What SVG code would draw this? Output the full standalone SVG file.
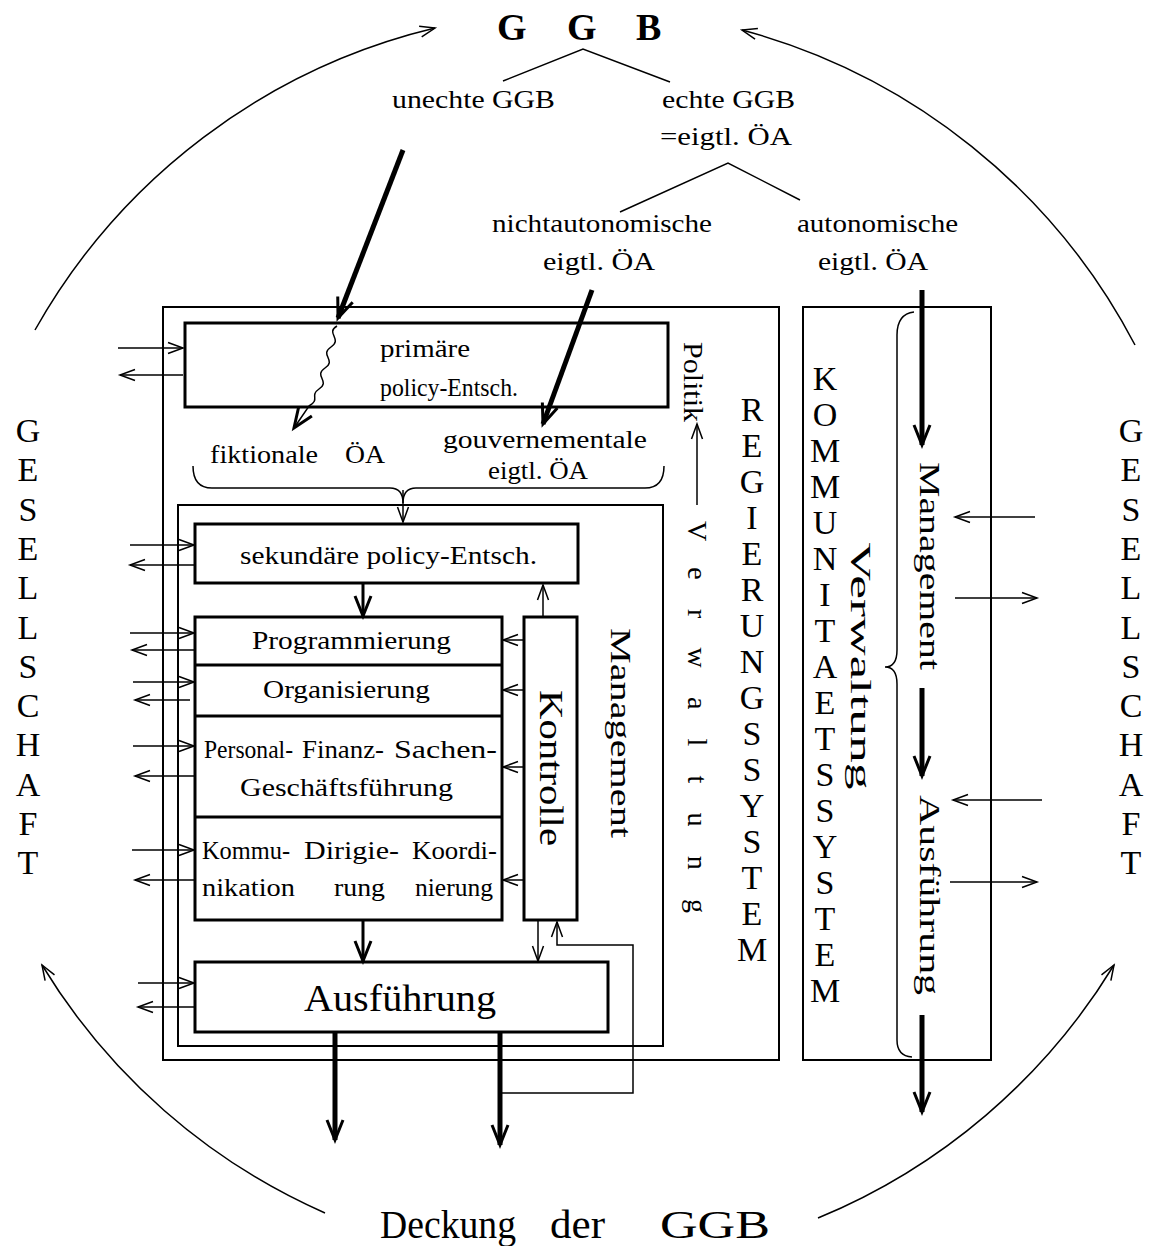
<svg xmlns="http://www.w3.org/2000/svg" width="1154" height="1246" viewBox="0 0 1154 1246">
<style>
text{font-family:"Liberation Serif","DejaVu Serif",serif;fill:#000}
.t{font-size:25px}
.big{font-size:38px}
.v{font-size:34px;text-anchor:middle}
.r{text-anchor:middle;dominant-baseline:central}
.box{fill:none;stroke:#000;stroke-width:3}
.frame{fill:none;stroke:#000;stroke-width:2}
.ln{fill:none;stroke:#000;stroke-width:1.5}
.th{fill:none;stroke:#000;stroke-width:5}
.md{fill:none;stroke:#000;stroke-width:3}
</style>
<defs>
<marker id="a" markerUnits="userSpaceOnUse" markerWidth="20" markerHeight="16" viewBox="-17 -8 20 16" refX="0" refY="0" orient="auto" overflow="visible">
<path d="M-15,-5.5 L0,0 L-15,5.5" fill="none" stroke="#000" stroke-width="1.5"/>
</marker>
<marker id="A" markerUnits="userSpaceOnUse" markerWidth="26" markerHeight="20" viewBox="-22 -10 26 20" refX="0" refY="0" orient="auto" overflow="visible">
<path d="M-20,-8 L0,0 L-20,8" fill="none" stroke="#000" stroke-width="3"/>
</marker>
</defs>

<!-- top tree -->
<g id="ggb">
<text font-size="38" font-weight="bold"><tspan x="497" y="40">G</tspan><tspan x="567" y="40">G</tspan><tspan x="636" y="40">B</tspan></text>
</g>
<g id="unechte"><text class="t" x="392" y="108" textLength="163" lengthAdjust="spacingAndGlyphs">unechte GGB</text></g>
<g id="echte"><text class="t" x="662" y="108" textLength="133" lengthAdjust="spacingAndGlyphs">echte GGB</text>
<text class="t" x="660" y="145" textLength="132" lengthAdjust="spacingAndGlyphs">=eigtl. ÖA</text></g>
<g id="nichtauto"><text class="t" x="492" y="232" textLength="220" lengthAdjust="spacingAndGlyphs">nichtautonomische</text>
<text class="t" x="543" y="270" textLength="112" lengthAdjust="spacingAndGlyphs">eigtl. ÖA</text></g>
<g id="auto"><text class="t" x="797" y="232" textLength="161" lengthAdjust="spacingAndGlyphs">autonomische</text>
<text class="t" x="818" y="270" textLength="110" lengthAdjust="spacingAndGlyphs">eigtl. ÖA</text></g>

<!-- Regierungssystem -->
<g id="regierungssystem">
<rect class="frame" x="163" y="307" width="616" height="753"/>
<text class="v"><tspan x="752" y="421">R</tspan><tspan x="752" dy="36">E</tspan><tspan x="752" dy="36">G</tspan><tspan x="752" dy="36">I</tspan><tspan x="752" dy="36">E</tspan><tspan x="752" dy="36">R</tspan><tspan x="752" dy="36">U</tspan><tspan x="752" dy="36">N</tspan><tspan x="752" dy="36">G</tspan><tspan x="752" dy="36">S</tspan><tspan x="752" dy="36">S</tspan><tspan x="752" dy="36">Y</tspan><tspan x="752" dy="36">S</tspan><tspan x="752" dy="36">T</tspan><tspan x="752" dy="36">E</tspan><tspan x="752" dy="36">M</tspan></text>
</g>
<g id="politik"><text class="r" font-size="28" transform="translate(693,382) rotate(90)" textLength="80" lengthAdjust="spacingAndGlyphs">Politik</text></g>
<g id="verwaltung-l"><text class="r" font-size="28" transform="translate(697,717) rotate(90)" textLength="392" lengthAdjust="spacing">Verwaltung</text></g>

<g id="primaer">
<rect class="box" x="185" y="323" width="483" height="84"/>
<text class="t" x="380" y="357" textLength="90" lengthAdjust="spacingAndGlyphs">primäre</text>
<text class="t" x="380" y="396" textLength="138" lengthAdjust="spacingAndGlyphs">policy-Entsch.</text>
</g>
<g id="fiktionale"><text class="t" y="463"><tspan x="210" textLength="108" lengthAdjust="spacingAndGlyphs">fiktionale</tspan><tspan x="345" textLength="40" lengthAdjust="spacingAndGlyphs">ÖA</tspan></text></g>
<g id="gouvern"><text class="t" x="443" y="448" textLength="204" lengthAdjust="spacingAndGlyphs">gouvernementale</text>
<text class="t" x="488" y="479" textLength="100" lengthAdjust="spacingAndGlyphs">eigtl. ÖA</text></g>

<g id="verwaltung-box"><rect class="frame" x="178" y="505" width="485" height="541" stroke-width="1.5"/></g>
<g id="management-l"><text class="r" font-size="30" transform="translate(621,733) rotate(90)" textLength="210" lengthAdjust="spacingAndGlyphs">Management</text></g>

<g id="sekundaer">
<rect class="box" x="195" y="524" width="383" height="59"/>
<text class="t" x="240" y="564" textLength="297" lengthAdjust="spacingAndGlyphs">sekundäre policy-Entsch.</text>
</g>
<g id="stack">
<rect class="box" x="195" y="617" width="307" height="303"/>
<line class="md" x1="195" y1="665" x2="502" y2="665" stroke-width="2"/>
<line class="md" x1="195" y1="716" x2="502" y2="716" stroke-width="2"/>
<line class="md" x1="195" y1="817" x2="502" y2="817" stroke-width="2"/>
<text class="t" x="252" y="649" textLength="199" lengthAdjust="spacingAndGlyphs">Programmierung</text>
<text class="t" x="263" y="698" textLength="167" lengthAdjust="spacingAndGlyphs">Organisierung</text>
<text class="t" y="758"><tspan x="204" textLength="89" lengthAdjust="spacingAndGlyphs">Personal-</tspan><tspan x="302" textLength="82" lengthAdjust="spacingAndGlyphs">Finanz-</tspan><tspan x="394" textLength="103" lengthAdjust="spacingAndGlyphs">Sachen-</tspan></text>
<text class="t" x="240" y="796" textLength="213" lengthAdjust="spacingAndGlyphs">Geschäftsführung</text>
<text class="t" y="859"><tspan x="202" textLength="88" lengthAdjust="spacingAndGlyphs">Kommu-</tspan><tspan x="304" textLength="95" lengthAdjust="spacingAndGlyphs">Dirigie-</tspan><tspan x="412" textLength="85" lengthAdjust="spacingAndGlyphs">Koordi-</tspan></text>
<text class="t" y="896"><tspan x="202" textLength="93" lengthAdjust="spacingAndGlyphs">nikation</tspan><tspan x="334" textLength="51" lengthAdjust="spacingAndGlyphs">rung</tspan><tspan x="415" textLength="78" lengthAdjust="spacingAndGlyphs">nierung</tspan></text>
</g>
<g id="kontrolle">
<rect class="box" x="524" y="617" width="53" height="303"/>
<text class="r" font-size="34" transform="translate(551,768) rotate(90)" textLength="156" lengthAdjust="spacingAndGlyphs">Kontrolle</text>
</g>
<g id="ausfuehrung">
<rect class="box" x="195" y="962" width="413" height="70"/>
<text class="big" x="304" y="1011" textLength="192" lengthAdjust="spacingAndGlyphs">Ausführung</text>
</g>

<!-- Kommunitaetssystem -->
<g id="kommunitaetssystem">
<rect class="frame" x="803" y="307" width="188" height="753"/>
<text class="v" font-size="32"><tspan x="825" y="390">K</tspan><tspan x="825" dy="36">O</tspan><tspan x="825" dy="36">M</tspan><tspan x="825" dy="36">M</tspan><tspan x="825" dy="36">U</tspan><tspan x="825" dy="36">N</tspan><tspan x="825" dy="36">I</tspan><tspan x="825" dy="36">T</tspan><tspan x="825" dy="36">A</tspan><tspan x="825" dy="36">E</tspan><tspan x="825" dy="36">T</tspan><tspan x="825" dy="36">S</tspan><tspan x="825" dy="36">S</tspan><tspan x="825" dy="36">Y</tspan><tspan x="825" dy="36">S</tspan><tspan x="825" dy="36">T</tspan><tspan x="825" dy="36">E</tspan><tspan x="825" dy="36">M</tspan></text>
<text class="r" font-size="30" transform="translate(861,666) rotate(90)" textLength="247" lengthAdjust="spacingAndGlyphs">Verwaltung</text>
<path class="ln" d="M914,312 Q897,314 897,335 L897,650 Q897,667 885,667 Q897,667 897,684 L897,1040 Q897,1056 912,1057"/>
<text class="r" font-size="30" transform="translate(930,566) rotate(90)" textLength="208" lengthAdjust="spacingAndGlyphs">Management</text>
<text class="r" font-size="30" transform="translate(930,895) rotate(90)" textLength="200" lengthAdjust="spacingAndGlyphs">Ausführung</text>
</g>

<!-- Gesellschaft -->
<g id="gesellschaft-l">
<text class="v" font-size="34"><tspan x="28" y="442">G</tspan><tspan x="28" dy="39.3">E</tspan><tspan x="28" dy="39.3">S</tspan><tspan x="28" dy="39.3">E</tspan><tspan x="28" dy="39.3">L</tspan><tspan x="28" dy="39.3">L</tspan><tspan x="28" dy="39.3">S</tspan><tspan x="28" dy="39.3">C</tspan><tspan x="28" dy="39.3">H</tspan><tspan x="28" dy="39.3">A</tspan><tspan x="28" dy="39.3">F</tspan><tspan x="28" dy="39.3">T</tspan></text>
</g>
<g id="gesellschaft-r">
<text class="v" font-size="34"><tspan x="1131" y="442">G</tspan><tspan x="1131" dy="39.3">E</tspan><tspan x="1131" dy="39.3">S</tspan><tspan x="1131" dy="39.3">E</tspan><tspan x="1131" dy="39.3">L</tspan><tspan x="1131" dy="39.3">L</tspan><tspan x="1131" dy="39.3">S</tspan><tspan x="1131" dy="39.3">C</tspan><tspan x="1131" dy="39.3">H</tspan><tspan x="1131" dy="39.3">A</tspan><tspan x="1131" dy="39.3">F</tspan><tspan x="1131" dy="39.3">T</tspan></text>
</g>
<g id="deckung"><text font-size="40" y="1238"><tspan x="380" textLength="136" lengthAdjust="spacingAndGlyphs">Deckung</tspan><tspan x="550" textLength="55" lengthAdjust="spacingAndGlyphs">der</tspan><tspan x="660" textLength="110" lengthAdjust="spacingAndGlyphs">GGB</tspan></text></g>

<!-- connectors -->
<g id="connectors">
<path class="ln" d="M35,330 A627,627 0 0 1 435,28" marker-end="url(#a)"/>
<path class="ln" d="M1135,345 A627,627 0 0 0 742,30" marker-end="url(#a)"/>
<path class="ln" d="M325,1213 A627,627 0 0 1 42,965" marker-end="url(#a)"/>
<path class="ln" d="M818,1218 A627,627 0 0 0 1114,965" marker-end="url(#a)"/>
<path class="ln" d="M503,81 L583,49 L670,82"/>
<path class="ln" d="M620,212 L728,163 L800,200"/>
<path class="th" d="M403,150 L338,318" marker-end="url(#A)"/>
<path class="th" d="M592,290 L543,424" marker-end="url(#A)"/>
<path class="ln" stroke-width="2" d="M337,326 c-12,7 6,13 -6,21 c-12,8 6,13 -6,21 c-12,8 6,13 -6,21 c-10,7 2,10 -10,17 L294,428" marker-end="url(#A)"/>
<path class="ln" d="M193,466 Q193,488 212,488 L390,488 Q403,488 403,503 Q403,488 416,488 L645,488 Q664,488 664,466"/>
<line class="ln" x1="403" y1="490" x2="403" y2="522" marker-end="url(#a)"/>
<line class="ln" x1="697" y1="505" x2="697" y2="424" marker-end="url(#a)"/>
<line class="md" x1="363" y1="583" x2="363" y2="616" marker-end="url(#A)"/>
<line class="ln" x1="543" y1="617" x2="543" y2="585" marker-end="url(#a)"/>
<line class="ln" x1="524" y1="640" x2="503" y2="640" marker-end="url(#a)"/>
<line class="ln" x1="524" y1="690" x2="503" y2="690" marker-end="url(#a)"/>
<line class="ln" x1="524" y1="767" x2="503" y2="767" marker-end="url(#a)"/>
<line class="ln" x1="524" y1="880" x2="503" y2="880" marker-end="url(#a)"/>
<line class="md" x1="363" y1="920" x2="363" y2="961" marker-end="url(#A)"/>
<line class="ln" x1="538" y1="920" x2="538" y2="961" marker-end="url(#a)"/>
<path class="ln" d="M500,1093 H633 V945 H557 V922" marker-end="url(#a)"/>
<line class="th" x1="335" y1="1032" x2="335" y2="1140" stroke-width="4" marker-end="url(#A)"/>
<line class="th" x1="500" y1="1032" x2="500" y2="1145" stroke-width="4" marker-end="url(#A)"/>
<line class="ln" x1="118" y1="348" x2="183" y2="348" marker-end="url(#a)"/>
<line class="ln" x1="183" y1="375" x2="120" y2="375" marker-end="url(#a)"/>
<line class="ln" x1="130" y1="545" x2="194" y2="545" marker-end="url(#a)"/>
<line class="ln" x1="194" y1="565" x2="130" y2="565" marker-end="url(#a)"/>
<line class="ln" x1="130" y1="633" x2="194" y2="633" marker-end="url(#a)"/>
<line class="ln" x1="194" y1="650" x2="132" y2="650" marker-end="url(#a)"/>
<line class="ln" x1="133" y1="682" x2="194" y2="682" marker-end="url(#a)"/>
<line class="ln" x1="190" y1="700" x2="135" y2="700" marker-end="url(#a)"/>
<line class="ln" x1="133" y1="746" x2="194" y2="746" marker-end="url(#a)"/>
<line class="ln" x1="194" y1="776" x2="135" y2="776" marker-end="url(#a)"/>
<line class="ln" x1="132" y1="850" x2="194" y2="850" marker-end="url(#a)"/>
<line class="ln" x1="194" y1="880" x2="135" y2="880" marker-end="url(#a)"/>
<line class="ln" x1="138" y1="983" x2="194" y2="983" marker-end="url(#a)"/>
<line class="ln" x1="194" y1="1007" x2="138" y2="1007" marker-end="url(#a)"/>
<line class="th" x1="922" y1="290" x2="922" y2="445" marker-end="url(#A)"/>
<line class="th" x1="922" y1="688" x2="922" y2="776" marker-end="url(#A)"/>
<line class="th" x1="922" y1="1015" x2="922" y2="1112" stroke-width="4" marker-end="url(#A)"/>
<line class="ln" x1="1035" y1="517" x2="955" y2="517" marker-end="url(#a)"/>
<line class="ln" x1="955" y1="598" x2="1037" y2="598" marker-end="url(#a)"/>
<line class="ln" x1="1042" y1="800" x2="953" y2="800" marker-end="url(#a)"/>
<line class="ln" x1="950" y1="882" x2="1037" y2="882" marker-end="url(#a)"/>
</g>
</svg>
